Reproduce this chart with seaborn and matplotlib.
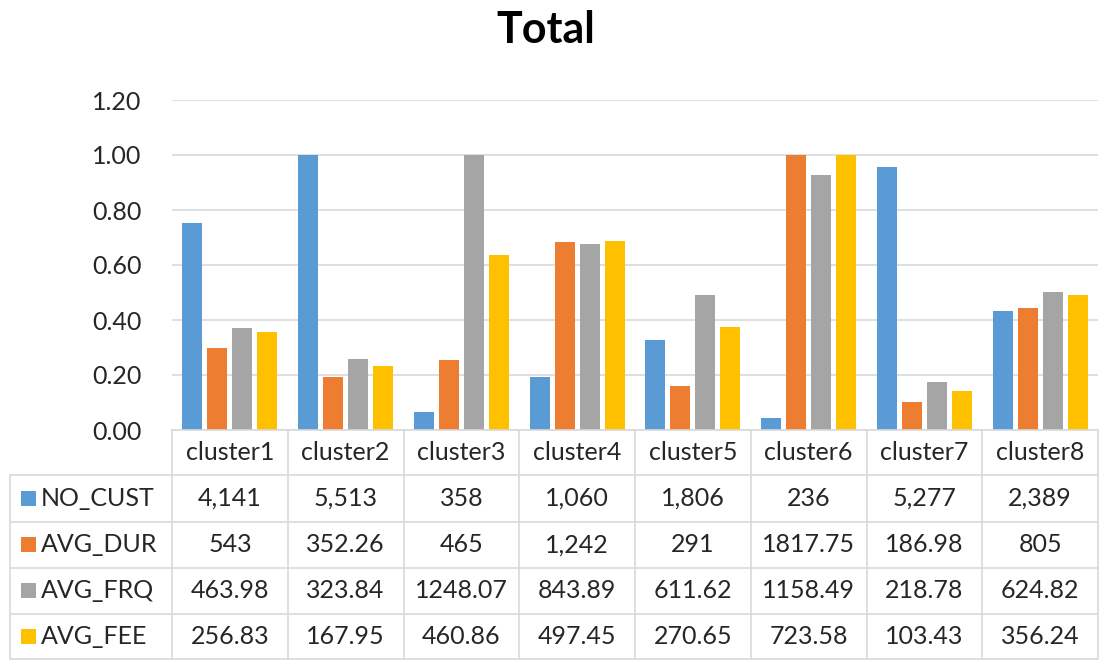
import numpy as np
import pandas as pd
import matplotlib
matplotlib.use("Agg")
import matplotlib.pyplot as plt
from matplotlib.lines import Line2D
from matplotlib.patches import Rectangle
from matplotlib.transforms import blended_transform_factory
import seaborn as sns

# ---- data -------------------------------------------------------------
clusters = ["cluster1", "cluster2", "cluster3", "cluster4",
            "cluster5", "cluster6", "cluster7", "cluster8"]
series_names = ["NO_CUST", "AVG_DUR", "AVG_FRQ", "AVG_FEE"]
no_cust = [4141, 5513, 358, 1060, 1806, 236, 5277, 2389]
avg_dur = [543, 352.26, 465, 1242, 291, 1817.75, 186.98, 805]
avg_frq = [463.98, 323.84, 1248.07, 843.89, 611.62, 1158.49, 218.78, 624.82]
avg_fee = [256.83, 167.95, 460.86, 497.45, 270.65, 723.58, 103.43, 356.24]
table_text = {
    "NO_CUST": ["4,141", "5,513", "358", "1,060", "1,806", "236", "5,277", "2,389"],
    "AVG_DUR": ["543", "352.26", "465", "1,242", "291", "1817.75", "186.98", "805"],
    "AVG_FRQ": ["463.98", "323.84", "1248.07", "843.89", "611.62", "1158.49", "218.78", "624.82"],
    "AVG_FEE": ["256.83", "167.95", "460.86", "497.45", "270.65", "723.58", "103.43", "356.24"],
}
yticks = [0.0, 0.2, 0.4, 0.6, 0.8, 1.0, 1.2]
colors = ["#5B9BD5", "#ED7D31", "#A5A5A5", "#FFC000"]

raw = {"NO_CUST": no_cust, "AVG_DUR": avg_dur, "AVG_FRQ": avg_frq, "AVG_FEE": avg_fee}
rows = []
for name in series_names:
    vals = np.array(raw[name], dtype=float)
    scaled = vals / vals.max()          # each metric scaled to its own maximum
    for c, v in zip(clusters, scaled):
        rows.append({"cluster": c, "metric": name, "value": v})
df = pd.DataFrame(rows)

# ---- figure -----------------------------------------------------------
W, H = 1102, 661
sns.set_theme(style="white")
plt.rcParams["font.family"] = ["Lato", "DejaVu Sans"]
text_color = "#262626"
grid_color = "#D9D9D9"
fs = 18

fig = plt.figure(figsize=(W / 100, H / 100), dpi=100)
ax = fig.add_axes([172 / W, 1 - 430 / H, (1098 - 172) / W, (430 - 100) / H])

sns.barplot(data=df, x="cluster", y="value", hue="metric", hue_order=series_names,
            palette=colors, order=clusters, width=0.864, ax=ax,
            legend=False, saturation=1, errorbar=None)

# leave a small gap between neighbouring bars
for p in ax.patches:
    w = p.get_width()
    p.set_x(p.get_x() + w * 0.1)
    p.set_width(w * 0.8)
    p.set_linewidth(0)

ax.set_xlim(-0.5, len(clusters) - 0.5)
ax.set_ylim(0, 1.2)
ax.set_yticks(yticks)
ax.set_yticklabels([f"{t:.2f}" for t in yticks], fontsize=fs, color=text_color)
ax.tick_params(axis="y", length=0, pad=22)
ax.set_xticks([])
ax.set_xlabel("")
ax.set_ylabel("")
ax.yaxis.grid(True, color=grid_color, linewidth=1.2)
ax.set_axisbelow(True)
for s in ["top", "right", "left"]:
    ax.spines[s].set_visible(False)
ax.spines["bottom"].set_color(grid_color)
ax.spines["bottom"].set_linewidth(1.2)

fig.text(546 / W, 1 - 30 / H, "Total", ha="center", va="center",
         fontsize=31, fontweight="bold", color="#000000")

# ---- data table under the chart -----------------------------------------
bt = blended_transform_factory(ax.transData, fig.transFigure)
fy = lambda y: 1 - y / H
row_edges = [475, 522, 568, 614, 659]
left_px = 10

for y in row_edges:
    fig.add_artist(Line2D([left_px / W, 1098 / W], [fy(y), fy(y)],
                          transform=fig.transFigure, color=grid_color, lw=1.2))
for i in range(len(clusters) + 1):
    x = i - 0.5
    fig.add_artist(Line2D([x, x], [fy(430), fy(659)], transform=bt,
                          color=grid_color, lw=1.2))
fig.add_artist(Line2D([left_px / W, left_px / W], [fy(475), fy(659)],
                      transform=fig.transFigure, color=grid_color, lw=1.2))

# header row
for i, c in enumerate(clusters):
    fig.text(i, fy(452), c, transform=bt, ha="center", va="center",
             fontsize=fs, color=text_color)

# body rows with legend keys
for r, name in enumerate(series_names):
    yc = (row_edges[r] + row_edges[r + 1]) / 2
    fig.add_artist(Rectangle((21 / W, fy(yc + 7)), 15 / W, 15 / H,
                             transform=fig.transFigure, color=colors[r], lw=0))
    fig.text(41 / W, fy(yc), name, ha="left", va="center",
             fontsize=fs, color=text_color)
    for i, t in enumerate(table_text[name]):
        fig.text(i, fy(yc), t, transform=bt, ha="center", va="center",
                 fontsize=fs, color=text_color)

fig.savefig("out.png", dpi=100, facecolor="white")
